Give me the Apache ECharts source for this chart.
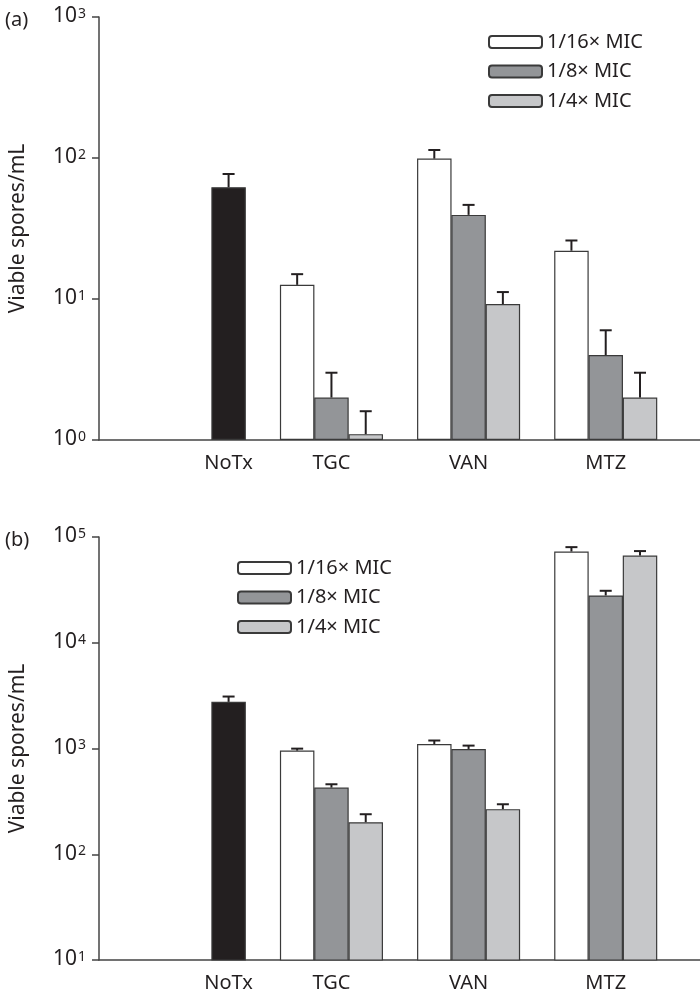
<!DOCTYPE html>
<html lang="en">
<head>
    <meta charset="UTF-8">
    <title>Viable spores</title>
    <style>
        html,body{
            margin: 0;
            height: 100%;
            background: #fff;
        }
        #main{
            width: 700px;
            height: 996px;
        }
    </style>
</head>
<body>
<script src="https://cdn.jsdelivr.net/npm/echarts@6/dist/echarts.min.js"></script>
<div id="main"></div>
<script>

    // categories and legend names
    var categories = ['NoTx', 'TGC', 'VAN', 'MTZ'];
    var concNames = ['1/16× MIC', '1/8× MIC', '1/4× MIC'];

    // (a) means, and mean + SD (top of error bar); order TGC, VAN, MTZ
    var aNoTx = [62];
    var aNoTxTop = [77];
    var a16 = [12.6, 99, 22];
    var a16Top = [15, 114, 26];
    var a8 = [2.0, 39.5, 4.0];
    var a8Top = [3.0, 46.5, 6.0];
    var a4 = [1.1, 9.2, 2.0];
    var a4Top = [1.6, 11.2, 3.0];

    // (b)
    var bNoTx = [2760];
    var bNoTxTop = [3100];
    var b16 = [955, 1100, 72900];
    var b16Top = [997, 1190, 80200];
    var b8 = [427, 990, 28000];
    var b8Top = [459, 1065, 31000];
    var b4 = [201, 267, 66800];
    var b4Top = [239, 297, 73600];

    var font = 'Noto Sans';
    var ink = '#231f20';
    var edge = '#3a3a3a';
    var fills = ['#ffffff', '#939598', '#c6c7c9'];

    // slot positions on the x axis (1 unit = one bar width)
    function groupCenter(i) {
        return i === 0 ? 4 : 3 + 4 * i;
    }
    var labelPos = categories.map(function (c, i) { return groupCenter(i); });

    var chart = echarts.init(document.getElementById('main'));

    function makeXAxis(gi) {
        return {
            type: 'value',
            gridIndex: gi,
            min: 0.22,
            max: 17.75,
            splitLine: {show: false},
            axisTick: {show: false},
            axisLine: {show: true, onZero: false, lineStyle: {color: '#444', width: 1.5}},
            axisLabel: {
                customValues: labelPos,
                margin: 13,
                color: ink,
                fontFamily: font,
                fontSize: 20,
                formatter: function (v) {
                    var k = labelPos.indexOf(v);
                    return k >= 0 ? categories[k] : '';
                }
            }
        };
    }

    function makeYAxis(gi, min, max) {
        return {
            type: 'log',
            logBase: 10,
            gridIndex: gi,
            min: min,
            max: max,
            name: 'Viable spores/mL',
            nameLocation: 'middle',
            nameGap: 70,
            nameTextStyle: {color: ink, fontFamily: font, fontSize: 21},
            splitLine: {show: false},
            minorTick: {show: false},
            axisLine: {show: true, lineStyle: {color: '#444', width: 1.5}},
            axisTick: {show: true, length: 7, lineStyle: {color: '#444', width: 1.5}},
            axisLabel: {
                margin: 13,
                color: ink,
                fontFamily: font,
                formatter: function (v) {
                    return '{b|10}{s|' + Math.round(Math.log10(v)) + '}';
                },
                rich: {
                    b: {fontSize: 21, lineHeight: 20, verticalAlign: 'bottom', color: ink, fontFamily: font},
                    s: {fontSize: 14, lineHeight: 14, verticalAlign: 'top', padding: [0, 0, 12, 1], color: ink, fontFamily: font}
                }
            }
        };
    }

    function barSeries(name, gi, color, xs, ys) {
        return {
            type: 'bar',
            name: name,
            xAxisIndex: gi,
            yAxisIndex: gi,
            barWidth: 34.5,
            barGap: '-100%',
            clip: true,
            itemStyle: {color: color, borderColor: edge, borderWidth: 1.2},
            data: ys.map(function (v, i) { return [xs[i], v]; })
        };
    }

    function errSeries(gi, rows) {
        return {
            type: 'custom',
            xAxisIndex: gi,
            yAxisIndex: gi,
            z: 5,
            silent: true,
            data: rows,
            renderItem: function (params, api) {
                var p0 = api.coord([api.value(0), api.value(1)]);
                var p1 = api.coord([api.value(0), api.value(2)]);
                var st = {stroke: ink, lineWidth: 2};
                return {
                    type: 'group',
                    children: [
                        {type: 'line', shape: {x1: p0[0], y1: p0[1], x2: p1[0], y2: p1[1]}, style: st},
                        {type: 'line', shape: {x1: p1[0] - 6, y1: p1[1], x2: p1[0] + 6, y2: p1[1]}, style: st}
                    ]
                };
            }
        };
    }

    function panelSeries(gi, noTx, noTxTop, conc, concTop) {
        var out = [];
        var nx = [groupCenter(0)];
        out.push(barSeries('NoTx', gi, ink, nx, noTx));
        var rows = [[nx[0], noTx[0], noTxTop[0]]];
        conc.forEach(function (vals, s) {
            var xs = vals.map(function (v, i) { return groupCenter(i + 1) + s - 1; });
            out.push(barSeries(concNames[s], gi, fills[s], xs, vals));
            vals.forEach(function (v, i) { rows.push([xs[i], v, concTop[s][i]]); });
        });
        out.push(errSeries(gi, rows));
        return out;
    }

    var option = {
        animation: false,
        backgroundColor: '#fff',
        textStyle: {fontFamily: font},
        title: [
            {text: '(a)', left: 0, top: 5, textStyle: {color: ink, fontFamily: font, fontSize: 20, fontWeight: 'normal'}},
            {text: '(b)', left: 0, top: 525, textStyle: {color: ink, fontFamily: font, fontSize: 20, fontWeight: 'normal'}}
        ],
        legend: [
            {
                data: concNames, orient: 'vertical', left: 483, top: 27,
                itemWidth: 53, itemHeight: 12, itemGap: 9.5,
                textStyle: {color: ink, fontFamily: font, fontSize: 20, lineHeight: 20}
            },
            {
                data: concNames, orient: 'vertical', left: 232, top: 553,
                itemWidth: 53, itemHeight: 12, itemGap: 9.5,
                textStyle: {color: ink, fontFamily: font, fontSize: 20, lineHeight: 20}
            }
        ],
        grid: [
            {left: 95, right: 0, top: 17, height: 423},
            {left: 95, right: 0, top: 537, height: 423}
        ],
        xAxis: [makeXAxis(0), makeXAxis(1)],
        yAxis: [makeYAxis(0, 1, 1000), makeYAxis(1, 10, 100000)],
        series: panelSeries(0, aNoTx, aNoTxTop, [a16, a8, a4], [a16Top, a8Top, a4Top])
            .concat(panelSeries(1, bNoTx, bNoTxTop, [b16, b8, b4], [b16Top, b8Top, b4Top]))
    };

    chart.setOption(option);

</script>
</body>
</html>
